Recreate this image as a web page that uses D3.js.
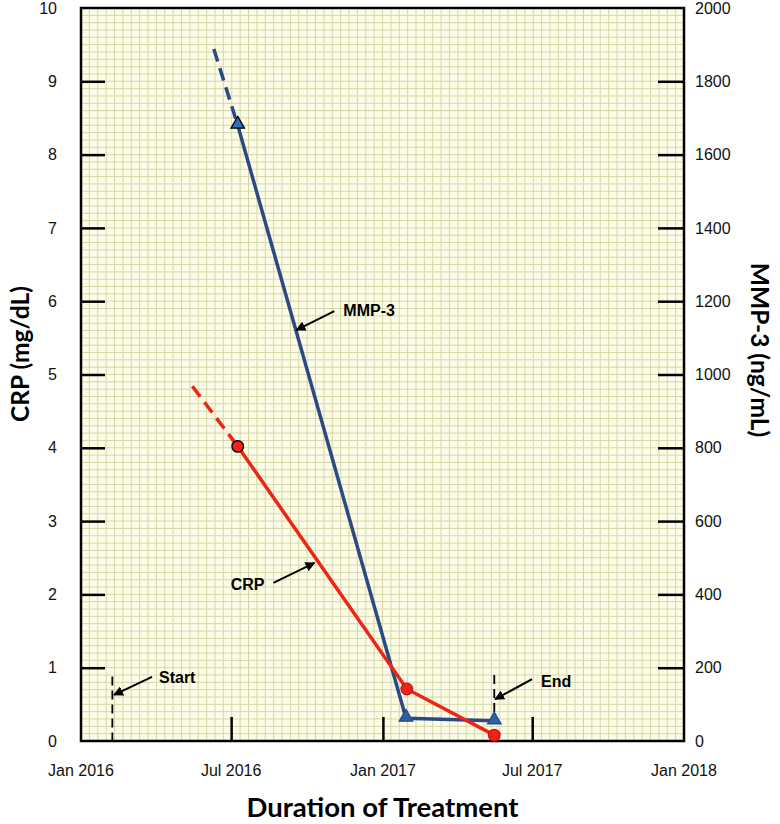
<!DOCTYPE html>
<html>
<head>
<meta charset="utf-8">
<script src="https://cdn.jsdelivr.net/npm/d3@7"></script>
<style>
  body { margin: 0; background: #fff; }
  .tick-label { font-family: "Liberation Sans", Arial, sans-serif; font-size: 16px; fill: #111; }
  .axis-title { font-family: Lato, "Open Sans", sans-serif; font-weight: 700; fill: #000; }
  .note { font-family: "Liberation Sans", Arial, sans-serif; font-weight: 700; font-size: 16px; fill: #000; }
</style>
</head>
<body>
<div id="chart"></div>
<script>
// ---- data ----
const xTickLabels = ["Jan 2016", "Jul 2016", "Jan 2017", "Jul 2017", "Jan 2018"];
const xTickDates = ["2016-01-01", "2016-07-01", "2017-01-01", "2017-07-01", "2018-01-01"];
const crpTicks = [0, 1, 2, 3, 4, 5, 6, 7, 8, 9, 10];
const mmpTicks = [0, 200, 400, 600, 800, 1000, 1200, 1400, 1600, 1800, 2000];

// CRP (mg/dL), left axis
const crpDates = ["2016-07-09", "2017-01-30", "2017-05-16"];
const crpValues = [4.02, 0.71, 0.08];
// dashed lead-in before first measurement
const crpLeadDates = ["2016-05-15", "2016-07-09"];
const crpLeadValues = [4.84, 4.02];

// MMP-3 (ng/mL), right axis
const mmpDates = ["2016-07-09", "2017-01-29", "2017-05-16"];
const mmpValues = [1680, 62, 55];
const mmpLeadDates = ["2016-06-10", "2016-07-09"];
const mmpLeadValues = [1888, 1680];

// treatment start / end markers
const eventLabels = ["Start", "End"];
const eventDates = ["2016-02-08", "2017-05-16"];
const eventTops = [0.88, 0.9];     // CRP units
const eventBottoms = [0, 0.33];

// arrow labels: tip sits on the series (date, value on its own axis)
const noteLabels = ["MMP-3", "CRP", "Start", "End"];
const noteDates = ["2016-09-18", "2016-10-10", "2016-02-10", "2017-05-17"];
const noteValues = [1121, 2.43, 0.63, 0.57];
const noteAxis = ["mmp", "crp", "crp", "crp"];

// ---- layout ----
const W = 780, H = 824;
const plot = { left: 81, right: 684, top: 8, bottom: 741 };
const parse = d3.timeParse("%Y-%m-%d");

const svg = d3.select("#chart").append("svg")
  .attr("width", W)
  .attr("height", H);

const x = d3.scaleTime()
  .domain([parse("2016-01-01"), parse("2018-01-01")])
  .range([plot.left, plot.right]);
const yL = d3.scaleLinear().domain([0, 10]).range([plot.bottom, plot.top]);
const yR = d3.scaleLinear().domain([0, 2000]).range([plot.bottom, plot.top]);

// graph-paper background
svg.append("rect")
  .attr("x", plot.left).attr("y", plot.top)
  .attr("width", plot.right - plot.left)
  .attr("height", plot.bottom - plot.top)
  .attr("fill", "#fcfce8");

const gridX = d3.scaleLinear().domain([0, 72]).range([plot.left, plot.right]);
const grid = svg.append("g")
  .attr("stroke", "#d5d8a6")
  .attr("stroke-width", 1);

grid.selectAll(".gv").data(d3.range(1, 72)).join("line")
  .attr("x1", d => gridX(d)).attr("x2", d => gridX(d))
  .attr("y1", plot.top).attr("y2", plot.bottom);

grid.selectAll(".gh").data(d3.range(1, 100)).join("line")
  .attr("x1", plot.left).attr("x2", plot.right)
  .attr("y1", d => yL(d / 10)).attr("y2", d => yL(d / 10));

// frame
svg.append("rect")
  .attr("x", plot.left).attr("y", plot.top)
  .attr("width", plot.right - plot.left)
  .attr("height", plot.bottom - plot.top)
  .attr("fill", "none")
  .attr("stroke", "#000")
  .attr("stroke-width", 2.5);

// inward ticks
const axisLeft = d3.axisLeft(yL).tickValues(crpTicks.slice(1, -1))
  .tickSize(-24).tickFormat("");
svg.append("g")
  .attr("transform", `translate(${plot.left},0)`)
  .call(axisLeft)
  .call(g => g.select(".domain").remove())
  .call(g => g.selectAll("line").attr("stroke", "#000").attr("stroke-width", 2.5));

const axisRight = d3.axisRight(yR).tickValues(mmpTicks.slice(1, -1))
  .tickSize(-26).tickFormat("");
svg.append("g")
  .attr("transform", `translate(${plot.right},0)`)
  .call(axisRight)
  .call(g => g.select(".domain").remove())
  .call(g => g.selectAll("line").attr("stroke", "#000").attr("stroke-width", 2.5));

const axisBottom = d3.axisBottom(x).tickValues(xTickDates.slice(1, -1).map(parse))
  .tickSize(-24).tickFormat("");
svg.append("g")
  .attr("transform", `translate(0,${plot.bottom})`)
  .call(axisBottom)
  .call(g => g.select(".domain").remove())
  .call(g => g.selectAll("line").attr("stroke", "#000").attr("stroke-width", 2.5));

// tick labels
svg.append("g").selectAll("text").data(crpTicks).join("text")
  .attr("class", "tick-label")
  .attr("x", 57)
  .attr("y", d => yL(d))
  .attr("dy", "0.35em")
  .attr("text-anchor", "end")
  .text(d => d);

svg.append("g").selectAll("text").data(mmpTicks).join("text")
  .attr("class", "tick-label")
  .attr("x", 695)
  .attr("y", d => yR(d))
  .attr("dy", "0.35em")
  .text(d => d);

svg.append("g").selectAll("text").data(xTickLabels).join("text")
  .attr("class", "tick-label")
  .attr("x", (d, i) => x(parse(xTickDates[i])))
  .attr("y", 776)
  .attr("text-anchor", "middle")
  .text(d => d);

// axis titles
svg.append("text")
  .attr("class", "axis-title")
  .attr("font-size", 27.5)
  .attr("x", (plot.left + plot.right) / 2)
  .attr("y", 817)
  .attr("text-anchor", "middle")
  .text("Duration of Treatment");

svg.append("text")
  .attr("class", "axis-title")
  .attr("font-size", 24.5)
  .attr("transform", "translate(29,354) rotate(-90)")
  .attr("text-anchor", "middle")
  .text("CRP (mg/dL)");

svg.append("text")
  .attr("class", "axis-title")
  .attr("font-size", 24.5)
  .attr("transform", "translate(751,350) rotate(90)")
  .attr("text-anchor", "middle")
  .text("MMP-3 (ng/mL)");

// start / end dashed markers
svg.append("g").selectAll("line").data(eventLabels).join("line")
  .attr("x1", (d, i) => x(parse(eventDates[i])))
  .attr("x2", (d, i) => x(parse(eventDates[i])))
  .attr("y1", (d, i) => yL(eventTops[i]))
  .attr("y2", (d, i) => yL(eventBottoms[i]))
  .attr("stroke", "#000")
  .attr("stroke-width", 1.8)
  .attr("stroke-dasharray", "9,5");

// series
const blue = "#2b4a84", red = "#ee2416";

const lineL = d3.line().x(d => x(d.date)).y(d => yL(d.value));
const lineR = d3.line().x(d => x(d.date)).y(d => yR(d.value));
const zipSeries = (dates, values) => dates.map((d, i) => ({ date: parse(d), value: values[i] }));

const mmp = zipSeries(mmpDates, mmpValues);
const mmpLead = zipSeries(mmpLeadDates, mmpLeadValues);
const crp = zipSeries(crpDates, crpValues);
const crpLead = zipSeries(crpLeadDates, crpLeadValues);

svg.append("path").datum(mmpLead)
  .attr("d", lineR).attr("fill", "none")
  .attr("stroke", blue).attr("stroke-width", 3.5)
  .attr("stroke-dasharray", "13,7");
svg.append("path").datum(mmp)
  .attr("d", lineR).attr("fill", "none")
  .attr("stroke", blue).attr("stroke-width", 3.5);

svg.append("path").datum(crpLead)
  .attr("d", lineL).attr("fill", "none")
  .attr("stroke", red).attr("stroke-width", 3.5)
  .attr("stroke-dasharray", "13,7");
svg.append("path").datum(crp)
  .attr("d", lineL).attr("fill", "none")
  .attr("stroke", red).attr("stroke-width", 3.5);

// markers
const tri = d3.symbol().type(d3.symbolTriangle).size(80);
svg.append("g").selectAll("path").data(mmp).join("path")
  .attr("d", tri)
  .attr("transform", d => `translate(${x(d.date)},${yR(d.value) - 1})`)
  .attr("fill", (d, i) => i === 0 ? "#2f6fb8" : "#2d5fa3")
  .attr("stroke", (d, i) => i === 0 ? "#000" : blue)
  .attr("stroke-width", 1.3);

svg.append("g").selectAll("circle").data(crp).join("circle")
  .attr("cx", d => x(d.date))
  .attr("cy", d => yL(d.value))
  .attr("r", 5.8)
  .attr("fill", red)
  .attr("stroke", (d, i) => i === 0 ? "#000" : "#c8141a")
  .attr("stroke-width", 1.3);

// arrows + labels
svg.append("defs").append("marker")
  .attr("id", "head")
  .attr("viewBox", "0 0 10 10")
  .attr("refX", 9).attr("refY", 5)
  .attr("markerWidth", 5).attr("markerHeight", 5)
  .attr("markerUnits", "strokeWidth")
  .attr("orient", "auto")
  .append("path")
  .attr("d", "M0,0 L10,5 L0,10 Z")
  .attr("fill", "#000");

// tail offsets / text offsets (pixels) for each arrow label
const noteTail = [[38, -19], [-41, 20], [38, -18], [37, -20]];
const noteText = [[47, -14], [-50, 27], [45, -12], [46, -12]];
const noteAnchor = ["start", "end", "start", "start"];

const tipOf = i => [
  x(parse(noteDates[i])),
  noteAxis[i] === "mmp" ? yR(noteValues[i]) : yL(noteValues[i])
];

const notes = svg.append("g");
notes.selectAll("line").data(noteLabels).join("line")
  .attr("x1", (d, i) => tipOf(i)[0] + noteTail[i][0])
  .attr("y1", (d, i) => tipOf(i)[1] + noteTail[i][1])
  .attr("x2", (d, i) => tipOf(i)[0])
  .attr("y2", (d, i) => tipOf(i)[1])
  .attr("stroke", "#000")
  .attr("stroke-width", 2)
  .attr("marker-end", "url(#head)");

notes.selectAll("text").data(noteLabels).join("text")
  .attr("class", "note")
  .attr("x", (d, i) => tipOf(i)[0] + noteText[i][0])
  .attr("y", (d, i) => tipOf(i)[1] + noteText[i][1])
  .attr("text-anchor", (d, i) => noteAnchor[i])
  .text(d => d);
</script>
</body>
</html>
